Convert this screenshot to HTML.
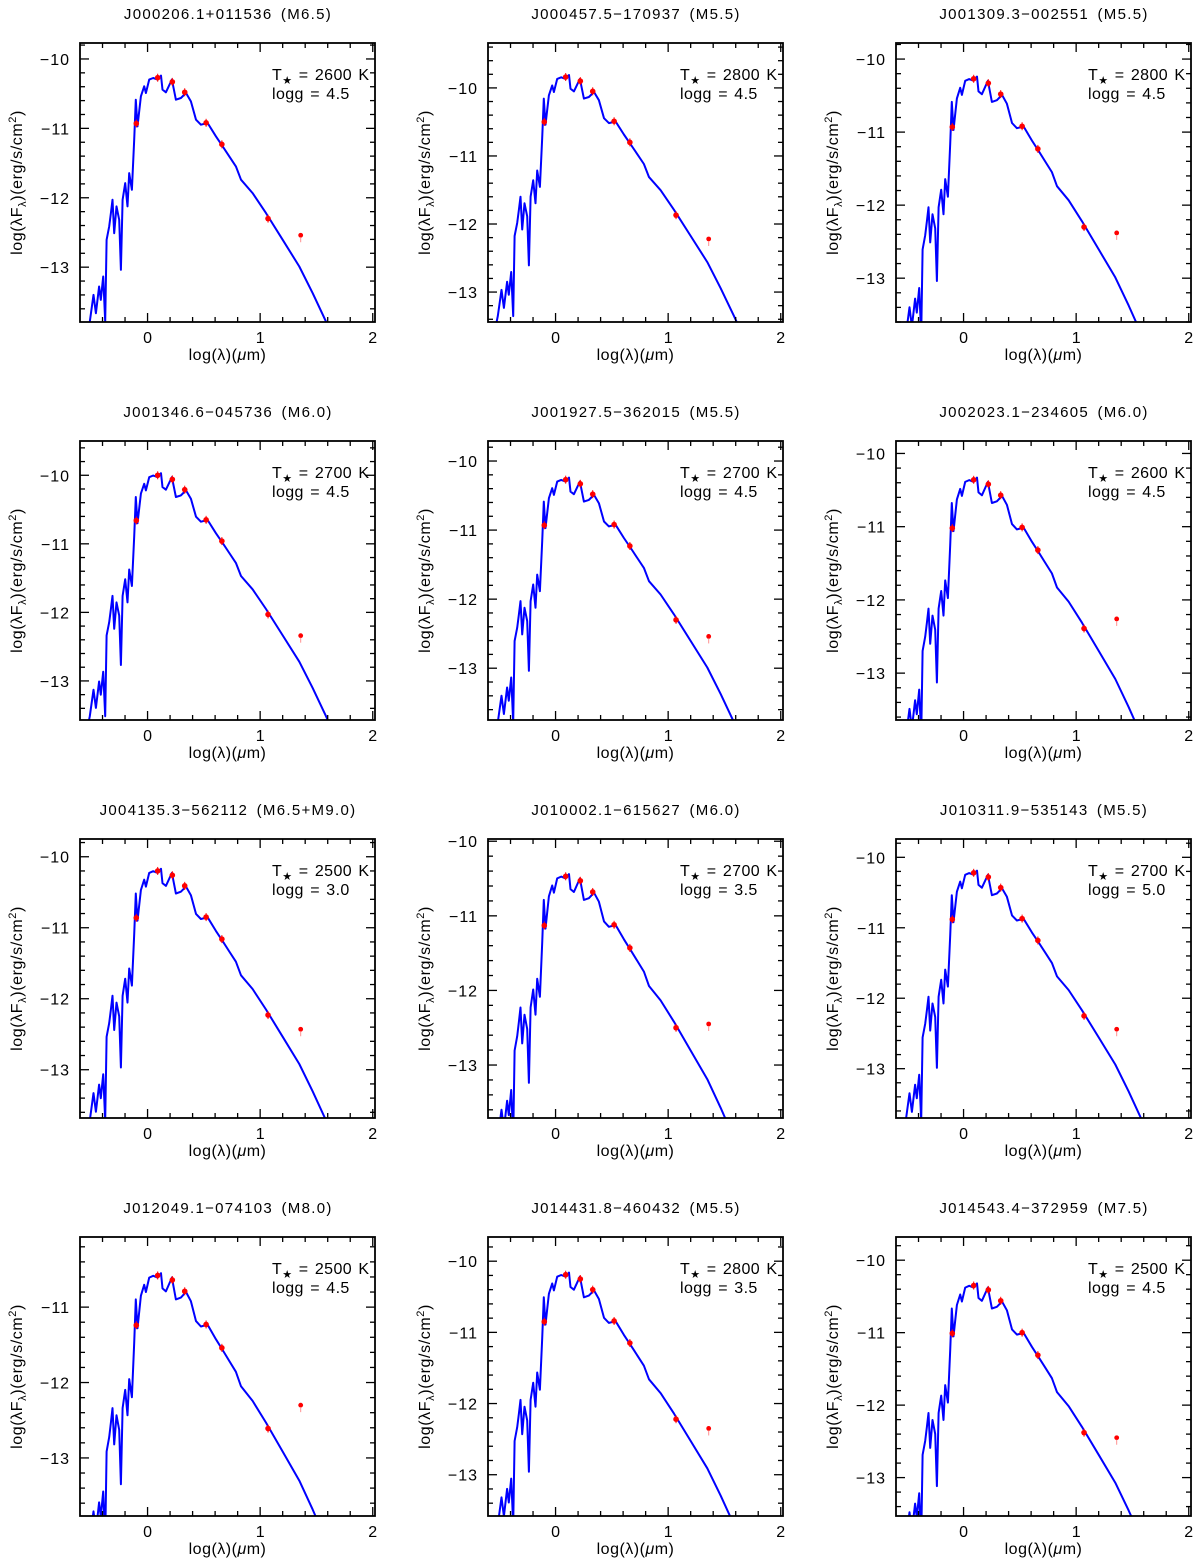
<!DOCTYPE html>
<html><head><meta charset="utf-8"><style>
body{margin:0;background:#fff;overflow:hidden;width:1200px;height:1561px}
svg{display:block;font-family:"Liberation Sans",sans-serif}
</style></head><body>
<svg id="c" width="1200" height="1561" viewBox="0 0 1200 1561" xmlns="http://www.w3.org/2000/svg"></svg>
<script>
const titles=["J000206.1+011536 (M6.5)","J000457.5\u2212170937 (M5.5)","J001309.3\u2212002551 (M5.5)","J001346.6\u2212045736 (M6.0)","J001927.5\u2212362015 (M5.5)","J002023.1\u2212234605 (M6.0)","J004135.3\u2212562112 (M6.5+M9.0)","J010002.1\u2212615627 (M6.0)","J010311.9\u2212535143 (M5.5)","J012049.1\u2212074103 (M8.0)","J014431.8\u2212460432 (M5.5)","J014543.4\u2212372959 (M7.5)"];
const temps=[2600,2800,2800,2700,2700,2600,2500,2700,2700,2500,2800,2500];
const loggs=["4.5","4.5","4.5","4.5","4.5","4.5","3.0","3.5","5.0","4.5","3.5","4.5"];
const yMax=[-9.77,-9.34,-9.78,-9.50,-9.71,-9.83,-9.75,-9.97,-9.74,-10.07,-9.66,-9.68];
const yMin=[-13.79,-13.44,-13.60,-13.57,-13.75,-13.64,-13.68,-13.71,-13.7,-13.77,-13.58,-13.53];
const offsets=[0,0.43,0,0.27,0,-0.09,0.07,-0.2,0.05,-0.31,0.08,-0.08];
const lastPoint=[-12.54,-12.22,-12.38,-12.34,-12.54,-12.26,-12.43,-12.45,-12.44,-12.3,-12.35,-12.45];
const templX=[-0.6,-0.513,-0.48,-0.459,-0.43,-0.415,-0.394,-0.376,-0.364,-0.341,-0.326,-0.311,-0.296,-0.276,-0.252,-0.237,-0.222,-0.199,-0.178,-0.163,-0.139,-0.119,-0.104,-0.089,-0.059,-0.03,-0.015,0.015,0.05,0.089,0.119,0.133,0.163,0.216,0.252,0.296,0.341,0.385,0.43,0.474,0.533,0.607,0.667,0.726,0.785,0.83,0.933,1.052,1.2,1.348,1.467,1.585,1.7,2.1];
const templY=[-14.5,-13.784,-13.399,-13.663,-13.279,-13.471,-13.135,-13.784,-12.606,-12.413,-12.221,-12.029,-12.51,-12.125,-12.317,-13.038,-12.029,-11.788,-12.125,-11.644,-11.885,-11.163,-10.587,-10.971,-10.538,-10.394,-10.49,-10.298,-10.274,-10.298,-10.24,-10.442,-10.481,-10.298,-10.587,-10.563,-10.49,-10.611,-10.875,-10.947,-10.923,-11.115,-11.26,-11.404,-11.548,-11.74,-11.933,-12.221,-12.606,-12.99,-13.375,-13.784,-14.2,-15.5];
const photX=[-0.1,0.09,0.22,0.33,0.52,0.66,1.07];
const photY=[-10.93,-10.27,-10.33,-10.48,-10.92,-11.23,-12.3];
const lastX=1.36;
const xTicks=[0,1,2];

const NS="http://www.w3.org/2000/svg";
const svg=document.getElementById('c');
function mk(t,a,p){const e=document.createElementNS(NS,t);for(const k in a)e.setAttribute(k,a[k]);(p||svg).appendChild(e);return e;}
const W=295,H=279,X0=-0.6,X1=2.02;
for(let i=0;i<12;i++){
  const c=i%3,r=Math.floor(i/3);
  const L=80+408*c,T=43+398*r;
  const sx=v=>L+(v-X0)/(X1-X0)*W;
  const sy=v=>T+(yMax[i]-v)/(yMax[i]-yMin[i])*H;
  const g=mk('g',{});
  
  
  const t=mk('text',{x:L+148,y:T-24,'text-anchor':'middle','font-size':15,'letter-spacing':1.3,'word-spacing':3},g);t.textContent=titles[i];
  
  
  mk('clipPath',{id:'cl'+i},g);
  mk('rect',{x:L,y:T,width:W,height:H},g.lastChild);
  let d='';
  templX.forEach((x,k)=>{d+=(k?'L':'M')+sx(x).toFixed(1)+','+sy(templY[k]+offsets[i]).toFixed(1);});
  const sp=mk('path',{d:d,fill:'none',stroke:'#0000ff','stroke-width':2,'stroke-linejoin':'round','clip-path':'url(#cl'+i+')'},g);
  
  
  photX.forEach((x,k)=>{
    const px=sx(x),py=sy(photY[k]+offsets[i]);
    mk('line',{x1:px,x2:px,y1:py-4,y2:py+4,stroke:'#ff0000','stroke-width':1},g);
    const p=mk('circle',{cx:px,cy:py,r:2.8,fill:'#ff0000'},g);
    
    
  });
  const lx=sx(lastX),ly=sy(lastPoint[i]);
  const lp=mk('circle',{cx:lx,cy:ly,r:2.4,fill:'#ff0000'},g);
  
  
  mk('line',{x1:lx,x2:lx,y1:ly+2,y2:ly+7,stroke:'#ff9090','stroke-width':1},g);
  mk('rect',{x:L,y:T,width:W,height:H,fill:'none',stroke:'#000','stroke-width':1.8},g);
  for(let v=-0.4;v<=2.01;v+=0.2){
    const vv=Math.round(v*10)/10,px=sx(vv),maj=Math.abs(vv-Math.round(vv))<1e-6,len=maj?9:5;
    mk('line',{x1:px,x2:px,y1:T+H,y2:T+H-len,stroke:'#000','stroke-width':1.3},g);
    mk('line',{x1:px,x2:px,y1:T,y2:T+len,stroke:'#000','stroke-width':1.3},g);
  }
  xTicks.forEach(v=>{const tl=mk('text',{x:sx(v),y:T+H+21,'text-anchor':'middle','font-size':16},g);tl.textContent=v;
    
    });
  for(let v=Math.ceil(yMin[i]*5)/5;v<=yMax[i];v+=0.2){
    const vv=Math.round(v*10)/10,py=sy(vv),maj=Math.abs(vv-Math.round(vv))<1e-6,len=maj?9:5;
    mk('line',{x1:L,x2:L+len,y1:py,y2:py,stroke:'#000','stroke-width':1.3},g);
    mk('line',{x1:L+W,x2:L+W-len,y1:py,y2:py,stroke:'#000','stroke-width':1.3},g);
    if(maj){const tl=mk('text',{x:L-10,y:py+6,'text-anchor':'end','font-size':16,'letter-spacing':1},g);tl.textContent='\u2212'+Math.abs(vv);
      
      }
  }
  const xt=mk('text',{x:L+W/2,y:T+H+38,'text-anchor':'middle','font-size':16,'letter-spacing':0.5},g);
  xt.innerHTML='log(λ)(<tspan font-style="italic">μ</tspan>m)';
  
  
  const yt=mk('text',{x:0,y:0,'text-anchor':'middle','font-size':16,'letter-spacing':0.6,transform:`translate(${L-58},${T+H/2}) rotate(-90)`},g);
  yt.innerHTML='log(λF<tspan font-size="11" dy="4">λ</tspan><tspan dy="-4">)(erg/s/cm</tspan><tspan font-size="11" dy="-6">2</tspan><tspan dy="6">)</tspan>';
  
  
  const l1=mk('text',{x:L+192,y:T+37,'font-size':16,'letter-spacing':0.4,'word-spacing':1.5},g);
  l1.innerHTML='T<tspan font-size="11" dy="4">★</tspan><tspan dy="-4"> = '+temps[i]+' K</tspan>';
  
  
  const l2=mk('text',{x:L+192,y:T+56,'font-size':16,'letter-spacing':0.4,'word-spacing':1.5},g);
  l2.textContent='logg = '+loggs[i];
  
  
}
</script>
</body></html>
